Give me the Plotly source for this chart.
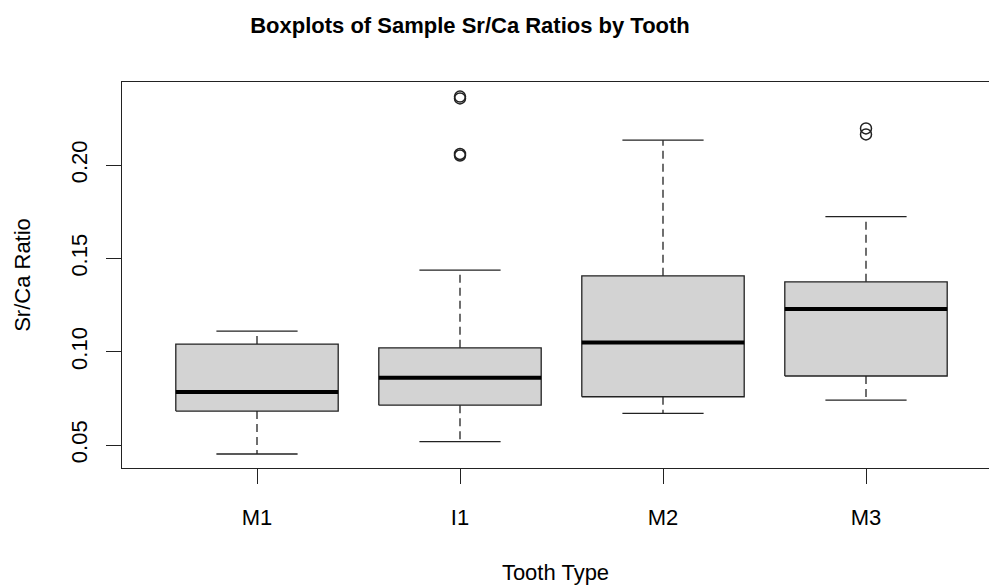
import plotly.graph_objects as go

# ---- data ----
categories = ["M1", "I1", "M2", "M3"]
lower_whisker = [0.0452, 0.0518, 0.0670, 0.0741]
q1 = [0.0682, 0.0714, 0.0759, 0.0870]
median = [0.0784, 0.0861, 0.1050, 0.1229]
q3 = [0.1041, 0.1021, 0.1407, 0.1375]
upper_whisker = [0.1111, 0.1438, 0.2134, 0.1724]
outlier_groups = ["I1", "I1", "I1", "I1", "M3", "M3"]
outlier_values = [0.2368, 0.2358, 0.2060, 0.2052, 0.2197, 0.2165]

y_ticks = [0.05, 0.10, 0.15, 0.20]
y_tick_labels = ["0.05", "0.10", "0.15", "0.20"]

FONT = "Liberation Sans, Arial, Helvetica, sans-serif"
LINE = "#222222"
FILL = "#d3d3d3"
BOX_HALF = 0.4
CAP_HALF = 0.2

fig = go.Figure()
pos = {c: i + 1 for i, c in enumerate(categories)}

for i, c in enumerate(categories):
    x = pos[c]
    # box
    fig.add_trace(go.Scatter(
        x=[x - BOX_HALF, x + BOX_HALF, x + BOX_HALF, x - BOX_HALF, x - BOX_HALF],
        y=[q1[i], q1[i], q3[i], q3[i], q1[i]],
        mode="lines", fill="toself", fillcolor=FILL,
        line=dict(color=LINE, width=1.3), hoverinfo="skip", showlegend=False))
    # median
    fig.add_trace(go.Scatter(
        x=[x - BOX_HALF, x + BOX_HALF], y=[median[i], median[i]],
        mode="lines", line=dict(color="black", width=4),
        hoverinfo="skip", showlegend=False))
    # whiskers (dashed)
    for a, b in ((q3[i], upper_whisker[i]), (q1[i], lower_whisker[i])):
        fig.add_trace(go.Scatter(
            x=[x, x], y=[a, b], mode="lines",
            line=dict(color=LINE, width=1.3, dash="8px,5px"),
            hoverinfo="skip", showlegend=False))
    # caps
    for w in (upper_whisker[i], lower_whisker[i]):
        fig.add_trace(go.Scatter(
            x=[x - CAP_HALF, x + CAP_HALF], y=[w, w], mode="lines",
            line=dict(color=LINE, width=1.3),
            hoverinfo="skip", showlegend=False))

# outliers
fig.add_trace(go.Scatter(
    x=[pos[g] for g in outlier_groups], y=outlier_values, mode="markers",
    marker=dict(symbol="circle-open", size=11, color=LINE, line=dict(width=1.5)),
    showlegend=False))

fig.update_layout(
    width=990, height=585,
    margin=dict(l=122, r=1, t=82, b=117),
    paper_bgcolor="white", plot_bgcolor="white",
    font=dict(family=FONT, size=22, color="black"),
    title=dict(text="<b>Boxplots of Sample Sr/Ca Ratios by Tooth</b>",
               xref="container", x=470 / 990, xanchor="center",
               yref="container", y=1 - 25 / 585, yanchor="middle",
               font=dict(family=FONT, size=22, color="black")),
    showlegend=False,
)

fig.update_xaxes(
    range=[0.335, 0.335 + 867 / 203],
    tickvals=[pos[c] for c in categories], ticktext=categories,
    ticks="outside", ticklen=15, tickwidth=1.3, tickcolor=LINE,
    showline=True, linecolor=LINE, linewidth=1.3, mirror=True,
    showgrid=False, zeroline=False,
    ticklabelstandoff=14,
    title=dict(text="Tooth Type", standoff=38, font=dict(size=22)),
    tickfont=dict(size=22),
)
fig.update_yaxes(
    range=[0.0377, 0.2446],
    tickvals=y_ticks, ticktext=y_tick_labels, tickangle=-90,
    ticks="outside", ticklen=15, tickwidth=1.3, tickcolor=LINE,
    showline=True, linecolor=LINE, linewidth=1.3, mirror=False,
    showgrid=False, zeroline=False,
    ticklabelstandoff=10,
    title=dict(text="Sr/Ca Ratio", standoff=30, font=dict(size=22)),
    tickfont=dict(size=22),
)

fig.write_html("out.html")
